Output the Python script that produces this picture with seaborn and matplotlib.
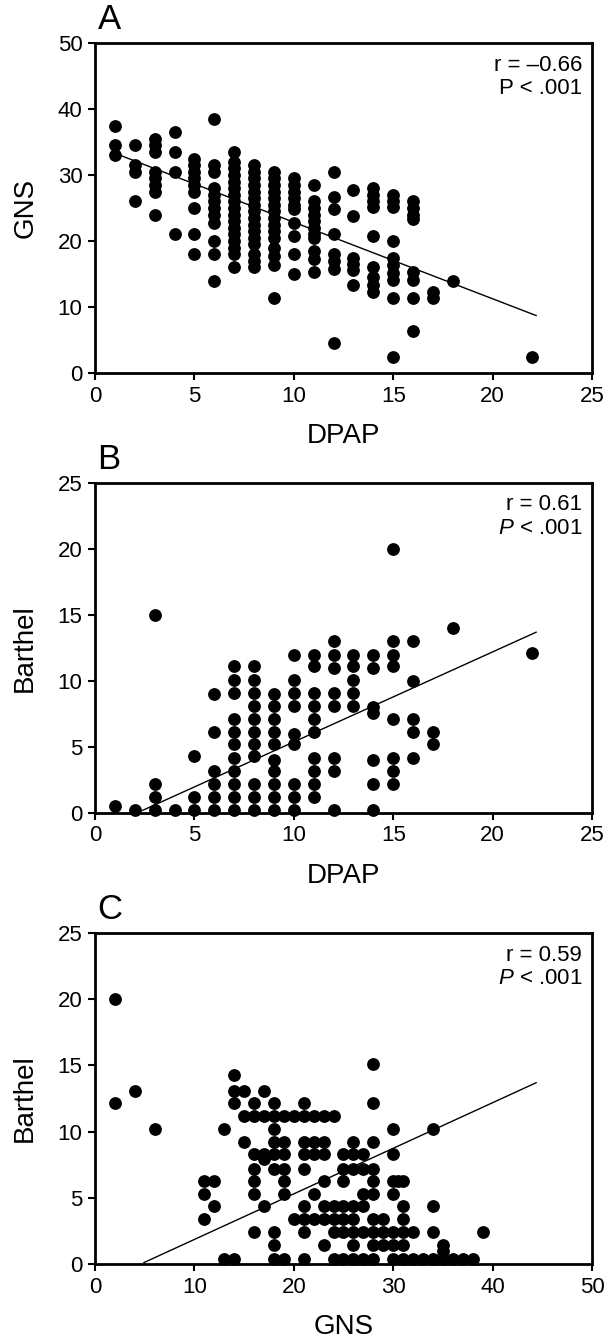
import matplotlib
matplotlib.use("Agg")
import matplotlib.pyplot as plt
import seaborn as sns
import pandas as pd

# ---- panel A: DPAP vs GNS (one list of GNS values per DPAP column)
a_dpap = [1, 2, 3, 4, 5, 6, 7, 8, 9, 10, 11, 12, 13, 14, 15, 16, 17, 18, 22]
a_gns = [
    [37.5, 34.5, 33],
    [34.5, 31.5, 30.5, 26],
    [35.5, 34.5, 33.5, 30.5, 29.5, 28.5, 27.5, 24],
    [36.5, 33.5, 30.5, 21],
    [32.5, 31.5, 30.5, 29.5, 28.5, 27.5, 25, 21, 18],
    [38.5, 31.5, 30.5, 28, 27, 26, 25, 24, 22.7, 20, 18, 14],
    [33.5, 32, 31, 30, 29, 28, 27, 26, 25, 24, 23, 22, 21, 20, 19, 18, 16],
    [31.5, 30.5, 29.5, 28.5, 27.5, 26.5, 25.5, 24.5, 23.5, 22.5, 21.5, 20.5, 19.5, 18, 17, 16],
    [30.5, 29.5, 28.5, 27.5, 26.5, 25.5, 24.5, 23.5, 22.5, 21.5, 20.5, 19, 17.7, 16.3, 11.3],
    [29.5, 28.5, 27.5, 26.5, 25.5, 24.8, 22.8, 20.8, 18, 15],
    [28.5, 26, 25, 24, 23, 22, 21, 20.5, 18.5, 17.3, 15.3],
    [30.5, 26.7, 24.8, 21, 18, 17, 15.8, 4.5],
    [27.7, 23.8, 17.5, 16.5, 15.6, 13.3],
    [28, 27, 26, 25.2, 20.8, 16, 14.5, 13.3, 12.3],
    [27, 26, 25.2, 20, 17.4, 16.3, 15.2, 14.1, 11.3, 2.4],
    [26, 25, 24, 23.4, 15.3, 14.1, 11.3, 6.3],
    [12.3, 11.3],
    [14],
    [2.4],
]
a_line_x = [1, 22.2]
a_line_y = [33.3, 8.7]

# ---- panel B: DPAP vs Barthel
b_dpap = [1, 2, 3, 4, 5, 6, 7, 8, 9, 10, 11, 12, 13, 14, 15, 16, 17, 18, 22]
b_barthel = [
    [0.5],
    [0.2],
    [15, 2.2, 1.2, 0.2],
    [0.2],
    [4.3, 1.2, 0.2],
    [9, 6.1, 3.2, 2.2, 1.2, 0.2],
    [11.1, 10.1, 9.1, 7.1, 6.1, 5.2, 4.2, 3.2, 2.2, 1.2, 0.2],
    [11.1, 10.1, 9.1, 8.1, 7.1, 6.1, 5.2, 4.3, 2.2, 1.2, 0.2],
    [9, 8.1, 7.1, 6.1, 5.2, 4, 3.2, 2.2, 1.2, 0.2],
    [12, 10.1, 9.1, 8.1, 6, 5.2, 2.2, 1.2, 0.2],
    [12, 11.1, 9.1, 8.1, 7.1, 6.1, 4.2, 3.2, 2.2, 1.2],
    [13, 12, 11, 9.1, 8.1, 4.2, 3.2, 0.2],
    [12, 11.1, 10.1, 9.1, 8.1],
    [12, 11, 8, 7.6, 4, 2.2, 0.2],
    [20, 13, 12, 11.1, 7.1, 4.2, 3.2, 2.2],
    [13, 10, 7.1, 6.1, 4.2],
    [6.1, 5.2],
    [14],
    [12.1],
]
b_line_x = [2.4, 22.2]
b_line_y = [0.2, 13.7]

# ---- panel C: GNS vs Barthel (one list of GNS values per Barthel row)
c_barthel = [20, 15.1, 14.3, 13.1, 12.2, 11.2, 10.2, 9.2, 8.3, 7.9, 7.2, 6.3,
             5.3, 4.4, 3.4, 2.4, 1.4, 1.0, 0.4]
c_gns = [
    [2],
    [28],
    [14],
    [4, 14, 15, 17],
    [2, 14, 16, 18, 21, 28],
    [15, 16, 17, 18, 19, 20, 21, 22, 23, 24],
    [6, 13, 18, 30, 34],
    [15, 18, 19, 21, 22, 23, 26, 28],
    [16, 17, 18, 19, 21, 22, 23, 25, 26, 27, 30],
    [17],
    [16, 18, 19, 21, 25, 26, 27, 28],
    [11, 12, 16, 19, 23, 25, 28, 30, 30.5, 31],
    [11, 16, 19, 22, 27, 28, 30],
    [12, 17, 21, 23, 24, 25, 26, 27, 31, 34],
    [11, 20, 21, 22, 23, 24, 25, 26, 28, 29, 31],
    [16, 18, 21, 24, 25, 26, 27, 28, 29, 30, 31, 32, 34, 39],
    [18, 23, 26, 28, 29, 30, 31, 35],
    [35],
    [13, 14, 18, 19, 21, 24, 25, 26, 27, 28, 30, 31, 32, 33, 34, 35, 36, 37, 38],
]
c_line_x = [4.9, 44.4]
c_line_y = [0.1, 13.7]

# flatten the column lists into tables
df_a = pd.DataFrame([(x, y) for x, ys in zip(a_dpap, a_gns) for y in ys], columns=["DPAP", "GNS"])
df_b = pd.DataFrame([(x, y) for x, ys in zip(b_dpap, b_barthel) for y in ys], columns=["DPAP", "Barthel"])
df_c = pd.DataFrame([(x, y) for y, xs in zip(c_barthel, c_gns) for x in xs], columns=["GNS", "Barthel"])

sns.set_theme(style="ticks")
plt.rcParams["font.family"] = ["Liberation Sans", "DejaVu Sans"]
plt.rcParams["text.color"] = "black"
plt.rcParams["axes.labelcolor"] = "black"
plt.rcParams["mathtext.fontset"] = "custom"
plt.rcParams["mathtext.rm"] = "Liberation Sans"
plt.rcParams["mathtext.it"] = "Liberation Sans:italic"

fig = plt.figure(figsize=(6.1, 13.4), dpi=100)
ax_a = fig.add_axes([0.1557, 0.7216, 0.8148, 0.2463])
ax_b = fig.add_axes([0.1557, 0.3933, 0.8148, 0.2463])
ax_c = fig.add_axes([0.1557, 0.0567, 0.8148, 0.2470])

panels = [
    (ax_a, df_a, "DPAP", "GNS", a_line_x, a_line_y, (0, 25), (0, 50), 5, 10, "A", "r = \u20130.66", "P < .001"),
    (ax_b, df_b, "DPAP", "Barthel", b_line_x, b_line_y, (0, 25), (0, 25), 5, 5, "B", "r = 0.61", "$P$ < .001"),
    (ax_c, df_c, "GNS", "Barthel", c_line_x, c_line_y, (0, 50), (0, 25), 10, 5, "C", "r = 0.59", "$P$ < .001"),
]

for ax, df, xc, yc, lx, ly, xlim, ylim, xstep, ystep, letter, rtxt, ptxt in panels:
    sns.scatterplot(data=df, x=xc, y=yc, ax=ax, color="black", s=85,
                    linewidth=0, clip_on=False, zorder=3)
    sns.lineplot(x=lx, y=ly, ax=ax, color="black", linewidth=1.0)
    ax.set_xlim(*xlim)
    ax.set_ylim(*ylim)
    ax.set_xticks(range(xlim[0], xlim[1] + 1, xstep))
    ax.set_yticks(range(ylim[0], ylim[1] + 1, ystep))
    for s in ax.spines.values():
        s.set_linewidth(2)
        s.set_color("black")
    ax.tick_params(direction="out", length=5, width=1.5, pad=4,
                   labelsize=16, colors="black")
    ax.set_xlabel(xc, fontsize=20, labelpad=12)
    ax.set_ylabel(yc, fontsize=20, labelpad=14)
    ax.text(0.005, 1.02, letter, transform=ax.transAxes, fontsize=25,
            ha="left", va="bottom")
    ax.text(0.98, 0.965, rtxt, transform=ax.transAxes, fontsize=16,
            ha="right", va="top")
    ax.text(0.98, 0.893, ptxt, transform=ax.transAxes, fontsize=16,
            ha="right", va="top")

fig.savefig("out.png", dpi=100, facecolor="white")
